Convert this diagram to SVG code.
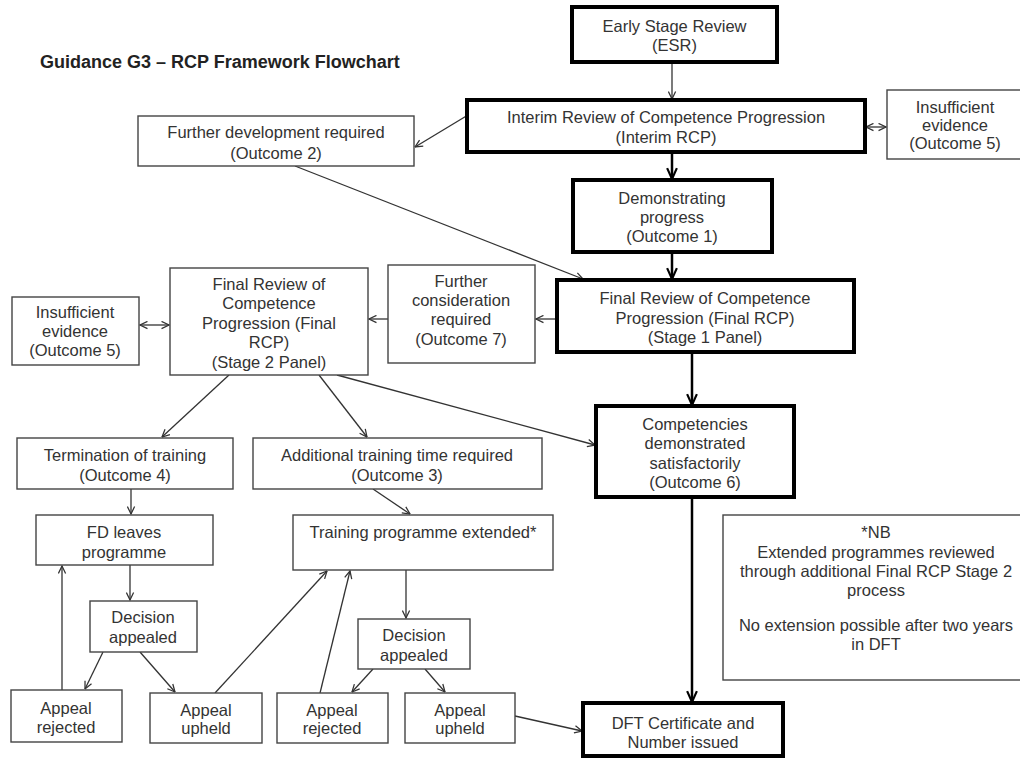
<svg xmlns="http://www.w3.org/2000/svg" width="1020" height="758" viewBox="0 0 1020 758">
<style>
  .bg { fill: #ffffff; }
  .thin { fill: #ffffff; stroke: #444; stroke-width: 1.4; }
  .thick { fill: #ffffff; stroke: #000; stroke-width: 4; }
  text { font-family: "Liberation Sans", Arial, sans-serif; font-size: 16.5px; fill: #333; text-anchor: middle; }
  .title { font-size: 18px; font-weight: bold; fill: #222; text-anchor: start; }
  .c { fill: none; stroke: #333; stroke-width: 1.3; marker-end: url(#v); }
  .cd { fill: none; stroke: #333; stroke-width: 1.3; marker-start: url(#v); marker-end: url(#v); }
  .ct { fill: none; stroke: #000; stroke-width: 2.5; marker-end: url(#vt); }
</style>
<defs>
  <marker id="v" viewBox="0 0 10 10" refX="9.3" refY="5" markerWidth="9" markerHeight="9" markerUnits="userSpaceOnUse" orient="auto-start-reverse">
    <path d="M1,1 L9.3,5 L1,9" fill="none" stroke="#333" stroke-width="1.4"/>
  </marker>
  <marker id="vt" viewBox="0 0 12 12" refX="11" refY="6" markerWidth="13" markerHeight="13" markerUnits="userSpaceOnUse" orient="auto">
    <path d="M1,1.5 L11,6 L1,10.5" fill="none" stroke="#000" stroke-width="2"/>
  </marker>
</defs>
<rect class="bg" x="0" y="0" width="1020" height="758"/>
<text class="title" x="40" y="68">Guidance G3 – RCP Framework Flowchart</text>

<g id="connectors">
  <line class="c" x1="672" y1="62" x2="672" y2="99"/>
  <line class="c" x1="468" y1="115" x2="415" y2="147"/>
  <line class="cd" x1="866" y1="127" x2="886" y2="127"/>
  <line class="ct" x1="672" y1="152" x2="672" y2="179"/>
  <line class="ct" x1="672" y1="252" x2="672" y2="279"/>
  <line class="c" x1="295" y1="166" x2="583" y2="279"/>
  <line class="c" x1="556" y1="319" x2="536" y2="319"/>
  <line class="c" x1="388" y1="319" x2="369" y2="319"/>
  <line class="cd" x1="140" y1="325" x2="169" y2="325"/>
  <line class="ct" x1="692" y1="352" x2="692" y2="405"/>
  <line class="c" x1="229" y1="375" x2="162" y2="437"/>
  <line class="c" x1="319" y1="375" x2="367" y2="437"/>
  <line class="c" x1="337" y1="375" x2="595" y2="445"/>
  <line class="c" x1="131" y1="489" x2="131" y2="514"/>
  <line class="c" x1="373" y1="489" x2="410" y2="514"/>
  <line class="ct" x1="692" y1="497" x2="692" y2="702"/>
  <line class="c" x1="130" y1="565" x2="130" y2="600"/>
  <line class="c" x1="103" y1="652" x2="85" y2="689"/>
  <line class="c" x1="140" y1="652" x2="175" y2="692"/>
  <line class="c" x1="62" y1="690" x2="62" y2="566"/>
  <line class="c" x1="215" y1="693" x2="327" y2="571"/>
  <line class="c" x1="320" y1="693" x2="350" y2="571"/>
  <line class="c" x1="406" y1="570" x2="406" y2="618"/>
  <line class="c" x1="373" y1="669" x2="352" y2="692"/>
  <line class="c" x1="425" y1="669" x2="445" y2="692"/>
  <line class="c" x1="515" y1="716" x2="582" y2="731"/>
</g>

<g id="esr">
  <rect class="thick" x="572" y="7" width="205" height="55"/>
  <text x="674.5" y="32">Early Stage Review</text>
  <text x="674.5" y="51">(ESR)</text>
</g>
<g id="interim">
  <rect class="thick" x="467" y="100" width="398" height="52"/>
  <text x="666" y="123">Interim Review of Competence Progression</text>
  <text x="666" y="143">(Interim RCP)</text>
</g>
<g id="insufficient-top">
  <rect class="thin" x="887" y="90" width="140" height="69"/>
  <text x="955" y="113">Insufficient</text>
  <text x="955" y="131">evidence</text>
  <text x="955" y="149">(Outcome 5)</text>
</g>
<g id="further-development">
  <rect class="thin" x="138" y="116" width="276" height="50"/>
  <text x="276" y="138">Further development required</text>
  <text x="276" y="159">(Outcome 2)</text>
</g>
<g id="demonstrating">
  <rect class="thick" x="573" y="180" width="199" height="72"/>
  <text x="672" y="204">Demonstrating</text>
  <text x="672" y="223">progress</text>
  <text x="672" y="242">(Outcome 1)</text>
</g>
<g id="final-stage1">
  <rect class="thick" x="557" y="280" width="297" height="72"/>
  <text x="705" y="304">Final Review of Competence</text>
  <text x="705" y="324">Progression (Final RCP)</text>
  <text x="705" y="343">(Stage 1 Panel)</text>
</g>
<g id="further-consideration">
  <rect class="thin" x="388" y="265" width="147" height="98"/>
  <text x="461" y="287">Further</text>
  <text x="461" y="306">consideration</text>
  <text x="461" y="325">required</text>
  <text x="461" y="345">(Outcome 7)</text>
</g>
<g id="final-stage2">
  <rect class="thin" x="170" y="268" width="198" height="107"/>
  <text x="269" y="290">Final Review of</text>
  <text x="269" y="309">Competence</text>
  <text x="269" y="329">Progression (Final</text>
  <text x="269" y="348">RCP)</text>
  <text x="269" y="368">(Stage 2 Panel)</text>
</g>
<g id="insufficient-left">
  <rect class="thin" x="12" y="297" width="127" height="68"/>
  <text x="75" y="318">Insufficient</text>
  <text x="75" y="337">evidence</text>
  <text x="75" y="356">(Outcome 5)</text>
</g>
<g id="termination">
  <rect class="thin" x="17" y="438" width="216" height="51"/>
  <text x="125" y="461">Termination of training</text>
  <text x="125" y="481">(Outcome 4)</text>
</g>
<g id="additional">
  <rect class="thin" x="253" y="438" width="289" height="51"/>
  <text x="397" y="461">Additional training time required</text>
  <text x="397" y="481">(Outcome 3)</text>
</g>
<g id="competencies">
  <rect class="thick" x="596" y="406" width="198" height="91"/>
  <text x="695" y="430">Competencies</text>
  <text x="695" y="449">demonstrated</text>
  <text x="695" y="469">satisfactorily</text>
  <text x="695" y="488">(Outcome 6)</text>
</g>
<g id="fd-leaves">
  <rect class="thin" x="36" y="515" width="177" height="50"/>
  <text x="124" y="538">FD leaves</text>
  <text x="124" y="558">programme</text>
</g>
<g id="training-extended">
  <rect class="thin" x="293" y="515" width="260" height="55"/>
  <text x="423" y="538">Training programme extended*</text>
</g>
<g id="nb">
  <rect class="thin" x="723" y="515" width="310" height="165"/>
  <text x="876" y="538">*NB</text>
  <text x="876" y="558">Extended programmes reviewed</text>
  <text x="876" y="577">through additional Final RCP Stage 2</text>
  <text x="876" y="596">process</text>
  <text x="876" y="631">No extension possible after two years</text>
  <text x="876" y="650">in DFT</text>
</g>
<g id="decision-left">
  <rect class="thin" x="90" y="601" width="107" height="51"/>
  <text x="143" y="623">Decision</text>
  <text x="143" y="643">appealed</text>
</g>
<g id="rejected-left">
  <rect class="thin" x="11" y="690" width="111" height="52"/>
  <text x="66" y="714">Appeal</text>
  <text x="66" y="733">rejected</text>
</g>
<g id="upheld-left">
  <rect class="thin" x="150" y="693" width="112" height="50"/>
  <text x="206" y="716">Appeal</text>
  <text x="206" y="734">upheld</text>
</g>
<g id="decision-right">
  <rect class="thin" x="358" y="619" width="112" height="50"/>
  <text x="414" y="641">Decision</text>
  <text x="414" y="661">appealed</text>
</g>
<g id="rejected-right">
  <rect class="thin" x="277" y="693" width="111" height="50"/>
  <text x="332" y="716">Appeal</text>
  <text x="332" y="734">rejected</text>
</g>
<g id="upheld-right">
  <rect class="thin" x="405" y="693" width="110" height="50"/>
  <text x="460" y="716">Appeal</text>
  <text x="460" y="734">upheld</text>
</g>
<g id="dft">
  <rect class="thick" x="583" y="703" width="200" height="53"/>
  <text x="683" y="729">DFT Certificate and</text>
  <text x="683" y="748">Number issued</text>
</g>
</svg>
